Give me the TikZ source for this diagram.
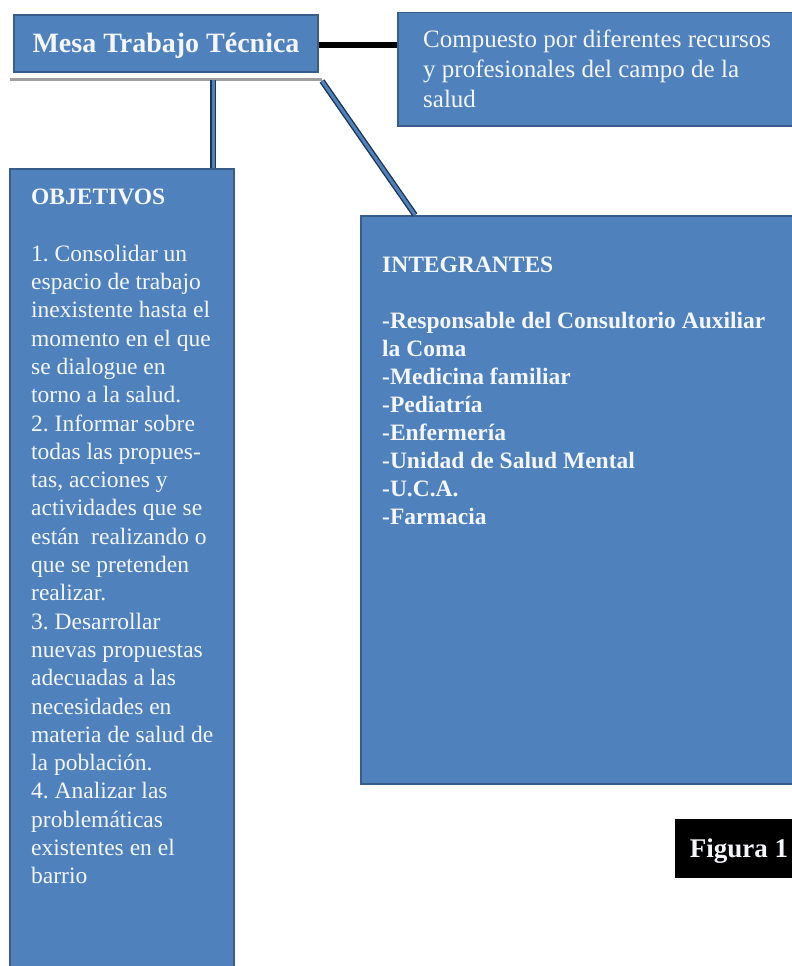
\documentclass[tikz,border=0pt]{standalone}
\usepackage{fontspec}
\setmainfont{Liberation Serif}
\frenchspacing
\definecolor{boxblue}{HTML}{4F81BD}
\definecolor{boxedge}{HTML}{385D8A}
\definecolor{txtwhite}{HTML}{F4F6FA}
\definecolor{darkedge}{HTML}{1F3556}
\tikzset{
  bluebox/.style={draw=boxedge, fill=boxblue, line width=1.5pt, rectangle, inner sep=0pt, text=txtwhite},
  bodytext/.style={anchor=north west, inner sep=0pt, align=left, text=txtwhite},
  bluelink/.style={draw=darkedge, double=boxblue, double distance=3pt, line width=1.4pt},
  blacklink/.style={draw=black, line width=5.5pt},
  greyrule/.style={draw=gray!75, line width=3pt},
}
\begin{document}
\begin{tikzpicture}[x=1pt,y=-1pt]
\useasboundingbox (0,0) rectangle (792,966);
\fill[white] (0,0) rectangle (792,966);

% boxes
\node[bluebox, minimum width=304pt, minimum height=57pt, text height=18.5pt, text depth=0pt,
      font=\fontsize{28}{32}\selectfont\bfseries] (mesa) at (166,43.5) {Mesa Trabajo Técnica};
\node[bluebox, anchor=north west, minimum width=403pt, minimum height=113pt] (comp) at (397,12) {};
\node[bluebox, anchor=north west, minimum width=224pt, minimum height=812pt] (obj) at (9,168) {};
\node[bluebox, anchor=north west, minimum width=440pt, minimum height=568pt] (integ) at (360,215) {};
\node[draw=black, fill=black, rectangle, inner sep=0pt, text=txtwhite, minimum width=128pt, minimum height=58pt,
      text height=18pt, text depth=0pt, font=\fontsize{27}{30}\selectfont\bfseries] (fig) at (739,848) {Figura 1};

% texts
\node[bodytext, font=\fontsize{25}{30}\selectfont] (comptxt) at (423,26)
  {\strut Compuesto por diferentes recursos\\
   y profesionales del campo de la\\
   salud};

\node[bodytext, font=\fontsize{23.5}{28.3}\selectfont] (objtxt) at (31,184.6)
  {\strut\textbf{OBJETIVOS}\\
   \strut\\
   1. Consolidar un\\
   espacio de trabajo\\
   inexistente hasta el\\
   momento en el que\\
   se dialogue en\\
   torno a la salud.\\
   2. Informar sobre\\
   todas las propues-\\
   tas, acciones y\\
   actividades que se\\
   están\ \ realizando o\\
   que se pretenden\\
   realizar.\\
   3. Desarrollar\\
   nuevas propuestas\\
   adecuadas a las\\
   necesidades en\\
   materia de salud de\\
   la población.\\
   4. Analizar las\\
   problemáticas\\
   existentes en el\\
   barrio};

\node[bodytext, font=\fontsize{23.5}{28}\selectfont\bfseries] (integtxt) at (382,253.1)
  {\strut INTEGRANTES\\
   \strut\\
   -Responsable del Consultorio Auxiliar\\
   la Coma\\
   -Medicina familiar\\
   -Pediatría\\
   -Enfermería\\
   -Unidad de Salud Mental\\
   -U.C.A.\\
   -Farmacia};

% connectors
\coordinate (ruleL) at (10,79);
\coordinate (ruleR) at (322,79);
\coordinate (vtop) at (213,80);
\coordinate (dstart) at (322,81);
\coordinate (dend) at (415,215);
\draw[greyrule] (ruleL) -- (ruleR);
\draw[blacklink] (mesa.east |- 0,45) -- (comp.west |- 0,45);
\draw[bluelink] (vtop) -- (vtop |- obj.north);
\draw[bluelink] (dstart) -- (dend);
\end{tikzpicture}
\end{document}
